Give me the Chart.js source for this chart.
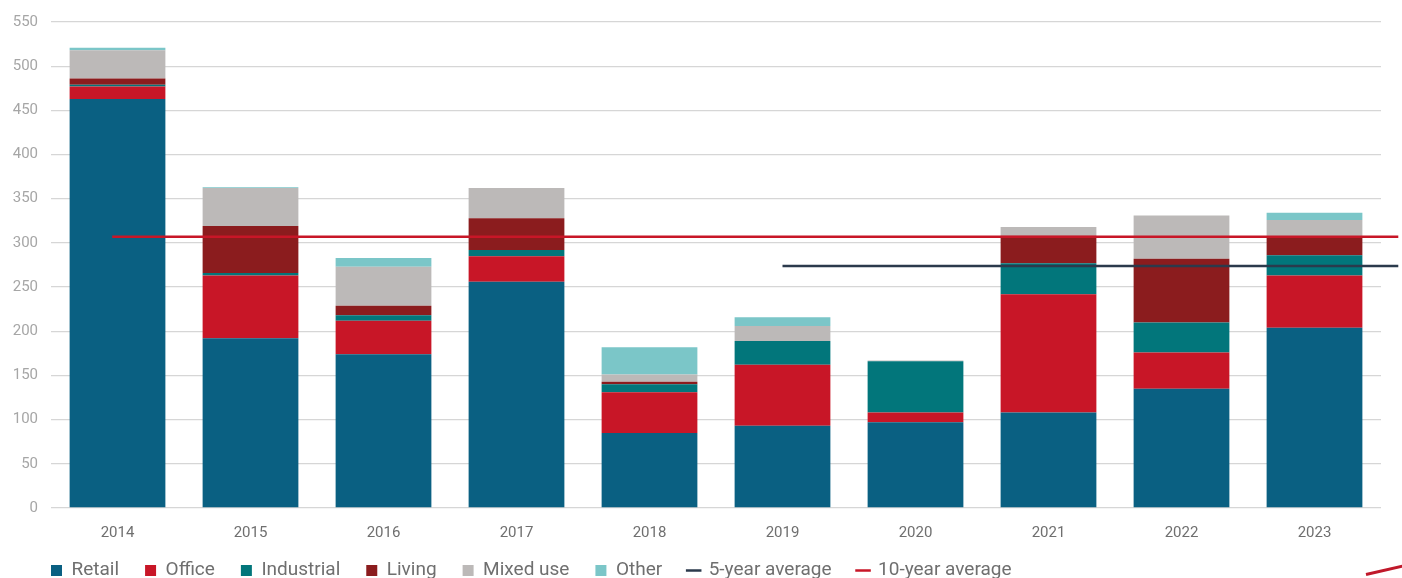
<!DOCTYPE html>
<html>
<head>
<meta charset="utf-8">
<script src="https://cdn.jsdelivr.net/npm/chart.js@4.4.0/dist/chart.umd.min.js"></script>
<style>
  html, body { margin: 0; padding: 0; background: #fff; overflow: hidden; }
  #wrap { position: relative; width: 1402px; height: 613px; }
  #corner { position: absolute; left: 1366px; top: 573px; width: 40px; height: 3px;
            background: #c0182a; transform: rotate(-13deg); transform-origin: left center; }
</style>
</head>
<body>
<div id="wrap"><canvas id="volumeChart"></canvas><div id="corner"></div></div>
<script>
// values
const years = ['2014', '2015', '2016', '2017', '2018', '2019', '2020', '2021', '2022', '2023'];
const retail     = [463, 192, 174, 256, 85, 93, 97, 108, 135, 204];
const office     = [14, 71, 38, 29, 46, 69, 11, 134, 41, 59];
const industrial = [2, 3, 6, 7, 9, 27, 58, 35, 34, 23];
const living     = [7, 53, 11, 36, 3, 0, 0, 31, 72, 21];
const mixedUse   = [32, 43, 44, 34, 8, 17, 1, 10, 49, 19];
const other      = [3, 1, 10, 0, 31, 10, 0, 0, 0, 8];

const fiveYearAvg = 274;
const tenYearAvg = 307;
const fiveYearSpan = [2019, 2023.63];
const tenYearSpan = [2013.96, 2023.63];

const yTicks = [0, 50, 100, 150, 200, 250, 300, 350, 400, 450, 500, 550];

Chart.defaults.font.family = 'Roboto';

function barSet(label, data, color) {
    return { type: 'bar', label: label, data: data, backgroundColor: color, borderWidth: 0,
             xAxisID: 'x', yAxisID: 'y', stack: 'bars', grouped: false,
             barPercentage: 0.72, categoryPercentage: 1.0 };
}
function avgSet(label, span, value, color, stack) {
    return { type: 'line', label: label, data: span.map(x => ({ x: x, y: value })),
             borderColor: color, backgroundColor: color, borderWidth: 2.5, pointRadius: 0,
             xAxisID: 'xl', yAxisID: 'y', clip: false, stack: stack, order: -1 };
}

// nudge the legend block so it sits where the reference puts it
const legendShift = {
    id: 'legendShift',
    afterLayout(chart) {
        const lg = chart.legend;
        if (!lg) return;
        lg.left += 25; lg.right += 25;
        lg.top -= 23; lg.bottom -= 23;
    }
};

document.addEventListener('DOMContentLoaded', () => {
    const ctx = document.getElementById('volumeChart').getContext('2d');
    new Chart(ctx, {
        type: 'bar',
        data: {
            labels: years,
            datasets: [
                barSet('Retail', retail, '#0a6082'),
                barSet('Office', office, '#c81627'),
                barSet('Industrial', industrial, '#02767b'),
                barSet('Living', living, '#8b1c1e'),
                barSet('Mixed use', mixedUse, '#bcb9b8'),
                barSet('Other', other, '#7bc6c8'),
                avgSet('5-year average', fiveYearSpan, fiveYearAvg, '#2b3a4c', 'avg5'),
                avgSet('10-year average', tenYearSpan, tenYearAvg, '#c81627', 'avg10')
            ]
        },
        options: {
            responsive: true,
            maintainAspectRatio: false,
            animation: false,
            layout: { padding: { top: 21, left: 0, right: 21, bottom: 0 } },
            scales: {
                x: {
                    stacked: true,
                    grid: { display: false, drawTicks: false },
                    border: { display: false },
                    ticks: { color: '#6f6f6f', font: { size: 15 }, padding: 16 }
                },
                xl: {
                    type: 'linear',
                    display: false,
                    offset: false,
                    grid: { offset: false },
                    min: 2013.5,
                    max: 2023.5
                },
                y: {
                    stacked: true,
                    min: 0,
                    max: 550,
                    afterBuildTicks: (scale) => { scale.ticks = yTicks.map(v => ({ value: v })); },
                    grid: { color: '#d6d6d6', lineWidth: 1.3, drawTicks: false },
                    border: { display: false },
                    ticks: { color: '#a6a6a6', font: { size: 15 }, padding: 13 },
                    afterFit: (scale) => { scale.width = 51; }
                }
            },
            plugins: {
                tooltip: { enabled: false },
                legend: {
                    position: 'bottom',
                    align: 'start',
                    labels: {
                        usePointStyle: true,
                        boxWidth: 11,
                        boxHeight: 11,
                        padding: 26,
                        color: '#6f6f6f',
                        font: { size: 19 },
                        sort: (a, b) => a.datasetIndex - b.datasetIndex,
                        generateLabels: (chart) => {
                            const items = Chart.defaults.plugins.legend.labels.generateLabels(chart);
                            items.forEach(it => {
                                it.pointStyle = chart.data.datasets[it.datasetIndex].type === 'line' ? 'line' : 'rect';
                            });
                            return items;
                        }
                    }
                }
            }
        },
        plugins: [legendShift]
    });
});
</script>
</body>
</html>
